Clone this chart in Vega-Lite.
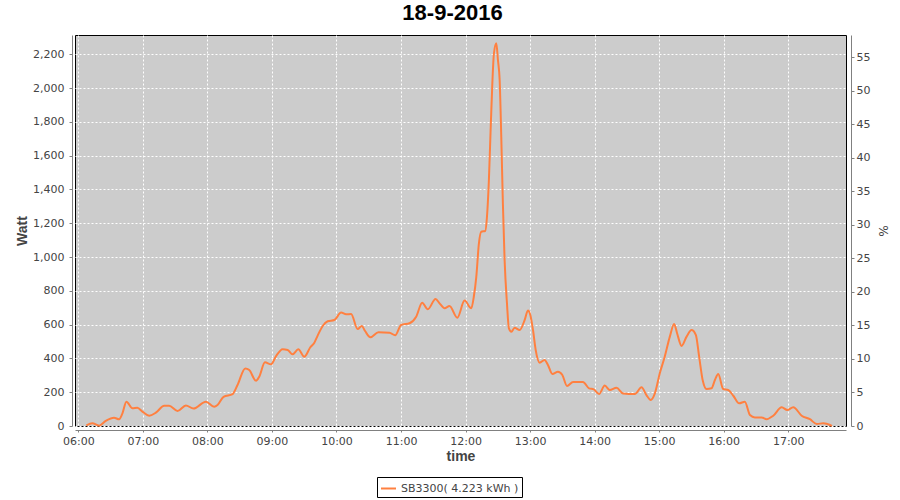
{
  "$schema": "https://vega.github.io/schema/vega-lite/v6.json",
  "width": 771,
  "height": 391,
  "autosize": "none",
  "padding": {"left": 75, "top": 35, "right": 54, "bottom": 74},
  "background": "white",
  "config": {
    "view": {"fill": "#cccccc", "stroke": "#000000", "strokeWidth": 1},
    "axis": {
      "domainColor": "#808080",
      "tickColor": "#808080",
      "labelFont": "DejaVu Sans",
      "labelFontSize": 11,
      "labelColor": "#444444",
      "titleColor": "#444444"
    }
  },
  "title": {
    "text": "18-9-2016",
    "font": "Liberation Sans",
    "fontSize": 22,
    "fontWeight": "bold",
    "color": "#000000",
    "anchor": "middle",
    "offset": 10,
    "dx": -8
  },
  "data": {
    "values": [
      {"t": "06:07:30", "w": 4}, {"t": "06:13:00", "w": 16}, {"t": "06:19:20", "w": 2}, {"t": "06:25:30", "w": 30},
      {"t": "06:33:10", "w": 49}, {"t": "06:37:55", "w": 40}, {"t": "06:41:00", "w": 75}, {"t": "06:44:40", "w": 144},
      {"t": "06:50:20", "w": 105}, {"t": "06:54:55", "w": 108}, {"t": "06:59:35", "w": 85}, {"t": "07:05:50", "w": 61},
      {"t": "07:12:05", "w": 79}, {"t": "07:19:50", "w": 120}, {"t": "07:24:25", "w": 120}, {"t": "07:32:10", "w": 89},
      {"t": "07:40:00", "w": 122}, {"t": "07:47:05", "w": 103}, {"t": "07:58:35", "w": 144}, {"t": "08:06:20", "w": 114},
      {"t": "08:09:25", "w": 124}, {"t": "08:15:00", "w": 173}, {"t": "08:23:25", "w": 189}, {"t": "08:28:00", "w": 243},
      {"t": "08:35:10", "w": 341}, {"t": "08:38:55", "w": 331}, {"t": "08:45:10", "w": 268}, {"t": "08:48:10", "w": 292},
      {"t": "08:53:30", "w": 377}, {"t": "08:59:05", "w": 365}, {"t": "09:03:50", "w": 414}, {"t": "09:09:55", "w": 454},
      {"t": "09:14:35", "w": 450}, {"t": "09:19:10", "w": 424}, {"t": "09:24:30", "w": 454}, {"t": "09:30:05", "w": 410},
      {"t": "09:35:40", "w": 466}, {"t": "09:39:25", "w": 493}, {"t": "09:42:30", "w": 535}, {"t": "09:47:10", "w": 592},
      {"t": "09:51:50", "w": 620}, {"t": "09:58:00", "w": 627}, {"t": "10:04:20", "w": 671}, {"t": "10:08:55", "w": 661},
      {"t": "10:13:35", "w": 663}, {"t": "10:19:40", "w": 574}, {"t": "10:23:30", "w": 592}, {"t": "10:26:35", "w": 562},
      {"t": "10:31:35", "w": 525}, {"t": "10:39:00", "w": 555}, {"t": "10:49:20", "w": 552}, {"t": "10:54:35", "w": 537},
      {"t": "11:00:05", "w": 598}, {"t": "11:07:55", "w": 608}, {"t": "11:14:05", "w": 647}, {"t": "11:19:40", "w": 730},
      {"t": "11:24:55", "w": 691}, {"t": "11:32:05", "w": 752}, {"t": "11:35:50", "w": 726}, {"t": "11:40:30", "w": 697},
      {"t": "11:45:05", "w": 710}, {"t": "11:52:20", "w": 641}, {"t": "11:59:05", "w": 742}, {"t": "12:05:20", "w": 697},
      {"t": "12:07:40", "w": 765}, {"t": "12:10:00", "w": 884}, {"t": "12:12:25", "w": 1081}, {"t": "12:14:36", "w": 1150},
      {"t": "12:18:18", "w": 1154}, {"t": "12:19:48", "w": 1229}, {"t": "12:21:42", "w": 1456}, {"t": "12:23:18", "w": 1752},
      {"t": "12:24:54", "w": 2028}, {"t": "12:26:24", "w": 2206}, {"t": "12:28:36", "w": 2265}, {"t": "12:30:06", "w": 2166},
      {"t": "12:31:42", "w": 2048}, {"t": "12:33:12", "w": 1712}, {"t": "12:34:42", "w": 1318}, {"t": "12:36:18", "w": 983},
      {"t": "12:38:30", "w": 726}, {"t": "12:40:18", "w": 578}, {"t": "12:42:36", "w": 558}, {"t": "12:45:36", "w": 582},
      {"t": "12:50:18", "w": 568}, {"t": "12:54:55", "w": 627}, {"t": "12:58:00", "w": 683}, {"t": "13:00:12", "w": 657},
      {"t": "13:02:42", "w": 568}, {"t": "13:05:12", "w": 450}, {"t": "13:08:55", "w": 375}, {"t": "13:13:30", "w": 391},
      {"t": "13:16:36", "w": 361}, {"t": "13:20:42", "w": 308}, {"t": "13:25:55", "w": 321}, {"t": "13:30:00", "w": 302},
      {"t": "13:34:20", "w": 237}, {"t": "13:39:55", "w": 260}, {"t": "13:49:10", "w": 260}, {"t": "13:54:50", "w": 223},
      {"t": "13:59:10", "w": 217}, {"t": "14:04:05", "w": 189}, {"t": "14:09:25", "w": 239}, {"t": "14:14:05", "w": 213},
      {"t": "14:20:20", "w": 227}, {"t": "14:26:25", "w": 193}, {"t": "14:37:20", "w": 189}, {"t": "14:43:35", "w": 229},
      {"t": "14:48:10", "w": 183}, {"t": "14:52:10", "w": 154}, {"t": "14:56:00", "w": 193}, {"t": "15:00:35", "w": 312},
      {"t": "15:05:10", "w": 410}, {"t": "15:09:55", "w": 529}, {"t": "15:13:55", "w": 604}, {"t": "15:16:40", "w": 549},
      {"t": "15:20:50", "w": 474}, {"t": "15:25:30", "w": 529}, {"t": "15:30:05", "w": 568}, {"t": "15:34:05", "w": 539},
      {"t": "15:37:10", "w": 410}, {"t": "15:40:25", "w": 272}, {"t": "15:44:05", "w": 219}, {"t": "15:48:40", "w": 223},
      {"t": "15:51:50", "w": 272}, {"t": "15:54:55", "w": 308}, {"t": "15:59:30", "w": 219}, {"t": "16:04:10", "w": 213},
      {"t": "16:08:55", "w": 179}, {"t": "16:14:25", "w": 134}, {"t": "16:19:40", "w": 144}, {"t": "16:24:25", "w": 65},
      {"t": "16:29:00", "w": 51}, {"t": "16:35:20", "w": 51}, {"t": "16:39:55", "w": 40}, {"t": "16:46:05", "w": 61},
      {"t": "16:53:55", "w": 111}, {"t": "16:59:05", "w": 95}, {"t": "17:04:40", "w": 111}, {"t": "17:12:30", "w": 61},
      {"t": "17:20:10", "w": 40}, {"t": "17:26:30", "w": 12}, {"t": "17:32:35", "w": 16}, {"t": "17:38:55", "w": 6},
      {"t": "17:40:40", "w": 0}
    ],
    "format": {"parse": {"t": "date:'%H:%M:%S'"}}
  },
  "layer": [
    {
      "mark": {"type": "line", "strokeWidth": 2, "interpolate": "monotone"},
      "encoding": {
        "x": {
          "field": "t",
          "type": "temporal",
          "scale": {
            "domain": [
              {"year": 1900, "month": 1, "date": 1, "hours": 5, "minutes": 56, "seconds": 54},
              {"year": 1900, "month": 1, "date": 1, "hours": 17, "minutes": 53, "seconds": 42}
            ],
            "nice": false
          },
          "axis": {
            "title": "time",
            "titleFont": "Liberation Sans",
            "titleFontSize": 14,
            "titleFontWeight": "bold",
            "titlePadding": 3,
            "format": "%H:%M",
            "values": [
              {"year": 1900, "month": 1, "date": 1, "hours": 6},
              {"year": 1900, "month": 1, "date": 1, "hours": 7},
              {"year": 1900, "month": 1, "date": 1, "hours": 8},
              {"year": 1900, "month": 1, "date": 1, "hours": 9},
              {"year": 1900, "month": 1, "date": 1, "hours": 10},
              {"year": 1900, "month": 1, "date": 1, "hours": 11},
              {"year": 1900, "month": 1, "date": 1, "hours": 12},
              {"year": 1900, "month": 1, "date": 1, "hours": 13},
              {"year": 1900, "month": 1, "date": 1, "hours": 14},
              {"year": 1900, "month": 1, "date": 1, "hours": 15},
              {"year": 1900, "month": 1, "date": 1, "hours": 16},
              {"year": 1900, "month": 1, "date": 1, "hours": 17}
            ],
            "offset": 4,
            "tickSize": 2,
            "labelPadding": 3,
            "labelFlush": false,
            "labelOverlap": false,
            "grid": true,
            "gridColor": "#ffffff",
            "gridDash": [2, 2],
            "gridWidth": 1
          }
        },
        "y": {
          "field": "w",
          "type": "quantitative",
          "scale": {"domain": [0, 2314], "nice": false, "zero": true},
          "axis": {
            "title": "Watt",
            "titleFont": "Liberation Sans",
            "titleFontSize": 14,
            "titleFontWeight": "bold",
            "titlePadding": 3,
            "format": ",d",
            "values": [0, 200, 400, 600, 800, 1000, 1200, 1400, 1600, 1800, 2000, 2200],
            "offset": 3,
            "tickSize": 3,
            "labelPadding": 5,
            "grid": true,
            "gridColor": "#ffffff",
            "gridDash": [2, 2],
            "gridWidth": 1
          }
        },
        "color": {
          "datum": "SB3300( 4.223 kWh )",
          "type": "nominal",
          "scale": {"range": ["#ff8040"]},
          "legend": {
            "title": null,
            "orient": "none",
            "legendX": 302,
            "legendY": 442,
            "direction": "horizontal",
            "strokeColor": "#000000",
            "fillColor": "#ffffff",
            "padding": 3,
            "symbolType": "stroke",
            "symbolSize": 225,
            "symbolStrokeWidth": 2,
            "labelFont": "DejaVu Sans",
            "labelFontSize": 11,
            "labelColor": "#444444",
            "labelOffset": 4
          }
        }
      }
    },
    {
      "mark": {"type": "rule", "opacity": 0},
      "encoding": {
        "y": {
          "datum": 0,
          "type": "quantitative",
          "scale": {"domain": [0, 58.33], "nice": false},
          "axis": {
            "orient": "right",
            "title": "%",
            "titleFont": "DejaVu Sans",
            "titleFontSize": 12,
            "titleFontWeight": "normal",
            "titlePadding": 6,
            "values": [0, 5, 10, 15, 20, 25, 30, 35, 40, 45, 50, 55],
            "offset": 5,
            "tickSize": 3,
            "labelPadding": 2,
            "grid": false
          }
        }
      }
    }
  ],
  "resolve": {"scale": {"y": "independent"}}
}
